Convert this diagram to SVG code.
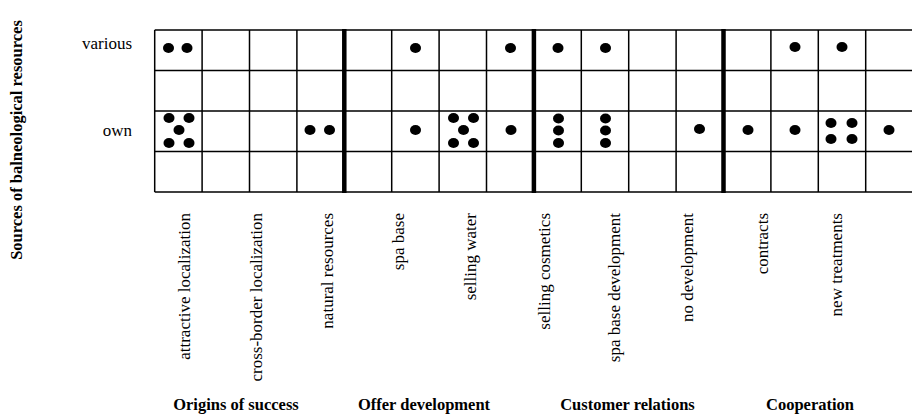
<svg xmlns="http://www.w3.org/2000/svg" width="912" height="416" viewBox="0 0 912 416">
<style>
.g{stroke:#000;stroke-width:1.5;fill:none}
.thick{stroke:#000;stroke-width:4.5}
.d{fill:#000}
.t{font-family:"Liberation Serif","Times New Roman",serif;font-size:17px;fill:#000}
.b{font-family:"Liberation Serif","Times New Roman",serif;font-size:16.5px;font-weight:bold;fill:#000}
</style>
<rect width="912" height="416" fill="#fff"/>
<g id="grid">
<path class="g" d="M154.7 30H913M154.7 70.5H913M154.7 111H913M154.7 151.5H913M154.7 192H913"/>
<path class="g" d="M154.7 30V192M202.1 30V192M249.5 30V192M296.9 30V192M391.7 30V192M439.1 30V192M486.5 30V192M581.3 30V192M628.7 30V192M676.1 30V192M770.9 30V192M818.3 30V192M865.7 30V192"/>
<path class="thick" d="M344.3 29V193M533.9 29V193M723.5 29V193"/>
</g>
<g id="row-labels">
<text class="t" x="132" y="49" text-anchor="end">various</text>
<text class="t" x="132" y="136" text-anchor="end">own</text>
<text class="b" transform="translate(22,140) rotate(-90)" text-anchor="middle">Sources of balneological resources</text>
</g>
<g id="dots-various">
<ellipse class="d" cx="168.5" cy="48" rx="5.5" ry="5"/>
<ellipse class="d" cx="187" cy="48" rx="5.5" ry="5"/>
<ellipse class="d" cx="415.5" cy="48" rx="5.5" ry="5"/>
<ellipse class="d" cx="510.5" cy="48" rx="5.5" ry="5"/>
<ellipse class="d" cx="558" cy="48" rx="5.5" ry="5"/>
<ellipse class="d" cx="605.5" cy="48" rx="5.5" ry="5"/>
<ellipse class="d" cx="795" cy="47" rx="5.5" ry="5"/>
<ellipse class="d" cx="842" cy="47" rx="5.5" ry="5"/>
</g>
<g id="dots-own">
<ellipse class="d" cx="169" cy="118" rx="5.5" ry="5"/>
<ellipse class="d" cx="189" cy="118" rx="5.5" ry="5"/>
<ellipse class="d" cx="179" cy="130" rx="5.5" ry="5"/>
<ellipse class="d" cx="169" cy="143" rx="5.5" ry="5"/>
<ellipse class="d" cx="189" cy="143" rx="5.5" ry="5"/>
<ellipse class="d" cx="310" cy="130" rx="5.5" ry="5"/>
<ellipse class="d" cx="329.5" cy="130" rx="5.5" ry="5"/>
<ellipse class="d" cx="415.5" cy="130" rx="5.5" ry="5"/>
<ellipse class="d" cx="453.5" cy="118" rx="5.5" ry="5"/>
<ellipse class="d" cx="473.5" cy="118" rx="5.5" ry="5"/>
<ellipse class="d" cx="463.5" cy="130" rx="5.5" ry="5"/>
<ellipse class="d" cx="453.5" cy="143" rx="5.5" ry="5"/>
<ellipse class="d" cx="473.5" cy="143" rx="5.5" ry="5"/>
<ellipse class="d" cx="511" cy="130" rx="5.5" ry="5"/>
<ellipse class="d" cx="558.5" cy="118.5" rx="5.5" ry="5"/>
<ellipse class="d" cx="558.5" cy="130.5" rx="5.5" ry="5"/>
<ellipse class="d" cx="558.5" cy="143" rx="5.5" ry="5"/>
<ellipse class="d" cx="605.5" cy="118.5" rx="5.5" ry="5"/>
<ellipse class="d" cx="605.5" cy="130.5" rx="5.5" ry="5"/>
<ellipse class="d" cx="605.5" cy="143" rx="5.5" ry="5"/>
<ellipse class="d" cx="699.5" cy="129" rx="5.5" ry="5"/>
<ellipse class="d" cx="748" cy="130" rx="5.5" ry="5"/>
<ellipse class="d" cx="795" cy="130" rx="5.5" ry="5"/>
<ellipse class="d" cx="831" cy="123" rx="5.5" ry="5"/>
<ellipse class="d" cx="852" cy="123" rx="5.5" ry="5"/>
<ellipse class="d" cx="831" cy="139" rx="5.5" ry="5"/>
<ellipse class="d" cx="852" cy="139" rx="5.5" ry="5"/>
<ellipse class="d" cx="889" cy="130" rx="5.5" ry="5"/>
</g>
<g id="column-labels">
<text class="t" transform="translate(190,213) rotate(-90)" text-anchor="end">attractive localization</text>
<text class="t" transform="translate(262,213) rotate(-90)" text-anchor="end">cross-border localization</text>
<text class="t" transform="translate(333,213) rotate(-90)" text-anchor="end">natural resources</text>
<text class="t" transform="translate(404,213) rotate(-90)" text-anchor="end">spa base</text>
<text class="t" transform="translate(476,213) rotate(-90)" text-anchor="end">selling water</text>
<text class="t" transform="translate(550,213) rotate(-90)" text-anchor="end">selling cosmetics</text>
<text class="t" transform="translate(620,213) rotate(-90)" text-anchor="end">spa base development</text>
<text class="t" transform="translate(693,213) rotate(-90)" text-anchor="end">no development</text>
<text class="t" transform="translate(768,213) rotate(-90)" text-anchor="end">contracts</text>
<text class="t" transform="translate(842,213) rotate(-90)" text-anchor="end">new treatments</text>
</g>
<g id="category-labels">
<text class="b" x="236" y="410" text-anchor="middle">Origins of success</text>
<text class="b" x="424" y="410" text-anchor="middle">Offer development</text>
<text class="b" x="627.5" y="410" text-anchor="middle">Customer relations</text>
<text class="b" x="810" y="410" text-anchor="middle">Cooperation</text>
</g>
</svg>
